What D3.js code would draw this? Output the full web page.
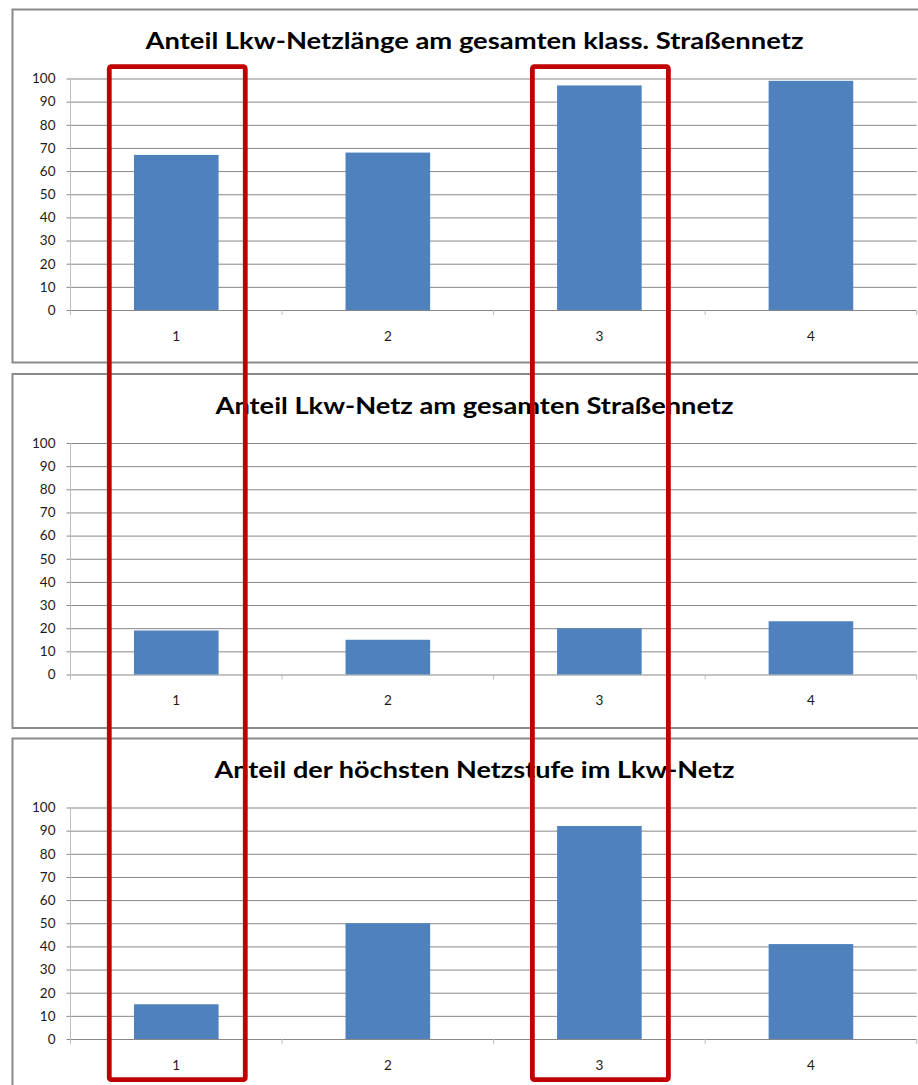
<!DOCTYPE html>
<html>
<head>
<meta charset="utf-8">
<script src="https://cdn.jsdelivr.net/npm/d3@7"></script>
<style>
html,body{margin:0;padding:0;background:#fff;overflow:hidden;}
svg{display:block;}
</style>
</head>
<body>
<svg id="chart" width="918" height="1085"></svg>
<script>
// ---- data ----
const categories = ["1", "2", "3", "4"];
const titles = [
  "Anteil Lkw-Netzlänge am gesamten klass. Straßennetz",
  "Anteil Lkw-Netz am gesamten Straßennetz",
  "Anteil der höchsten Netzstufe im Lkw-Netz"
];
const valuesNetzlaenge = [67, 68, 97, 99];
const valuesNetz = [19, 15, 20, 23];
const valuesHoechsteStufe = [15, 50, 92, 41];
const yTicks = [0, 10, 20, 30, 40, 50, 60, 70, 80, 90, 100];
const highlighted = ["1", "3"];

// ---- layout ----
const series = [valuesNetzlaenge, valuesNetz, valuesHoechsteStufe];
const panelTops = [9.5, 374, 738.5];
const panelBottoms = [362.5, 728, 1100];
const titleWidths = [658, 518, 520];
const plotLeft = 70.5, plotRight = 916.7;
const plotOffset = 69, plotH = 231.5;
const barColor = "#4F81BD", gridColor = "#878787";

const svg = d3.select("#chart");

const x = d3.scaleBand().domain(categories).range([plotLeft, plotRight])
  .paddingInner(0.6).paddingOuter(0.3);
const step = x.step();

series.forEach((vals, i) => {
  const top = panelTops[i];
  const g = svg.append("g");
  // panel border
  g.append("rect")
    .attr("x", 12.5).attr("y", top)
    .attr("width", 940).attr("height", panelBottoms[i] - top)
    .attr("fill", "#fff").attr("stroke", "#8a8a8a").attr("stroke-width", 2);

  // title
  g.append("text")
    .attr("x", 474.5).attr("y", top + 39.5)
    .attr("text-anchor", "middle")
    .attr("font-family", "Lato, 'Open Sans', sans-serif")
    .attr("font-weight", 700).attr("font-size", 23)
    .attr("textLength", titleWidths[i]).attr("lengthAdjust", "spacingAndGlyphs")
    .attr("fill", "#000")
    .text(titles[i]);

  const y0 = top + plotOffset;
  const y = d3.scaleLinear().domain([0, 100]).range([y0 + plotH, y0]);

  // gridlines + y axis ticks
  const yAxis = d3.axisLeft(y).tickValues(yTicks).tickSize(-(plotRight - plotLeft + 4)).tickPadding(11).tickFormat(d3.format("d"));
  const ya = g.append("g").attr("transform", `translate(${plotLeft - 4},0)`).call(yAxis);
  ya.select(".domain").remove();
  ya.selectAll(".tick line").attr("stroke", gridColor).attr("stroke-width", 1)
    .attr("x1", 0).attr("x2", plotRight - plotLeft + 4);
  ya.selectAll(".tick text")
    .attr("font-family", "Lato, sans-serif").attr("font-size", 13.5)
    .attr("fill", "#1a1a1a").attr("x", -11);

  // vertical axis line
  g.append("line")
    .attr("x1", plotLeft).attr("x2", plotLeft)
    .attr("y1", y(100)).attr("y2", y(0) + 5)
    .attr("stroke", "#bdbdbd").attr("stroke-width", 1);

  // x-axis category tick marks at band boundaries
  g.selectAll(".xt").data(d3.range(categories.length + 1)).enter().append("line")
    .attr("x1", k => plotLeft + k * step).attr("x2", k => plotLeft + k * step)
    .attr("y1", y(0)).attr("y2", y(0) + 5)
    .attr("stroke", "#bdbdbd").attr("stroke-width", 1);

  // bars
  g.selectAll(".bar").data(vals).enter().append("rect")
    .attr("x", (d, k) => x(categories[k]))
    .attr("width", x.bandwidth())
    .attr("y", d => y(d))
    .attr("height", d => y(0) - y(d))
    .attr("fill", barColor);

  // category labels
  g.selectAll(".xl").data(categories).enter().append("text")
    .attr("x", d => x(d) + x.bandwidth() / 2)
    .attr("y", y(0) + 26)
    .attr("dy", "0.35em")
    .attr("text-anchor", "middle")
    .attr("font-family", "Lato, sans-serif").attr("font-size", 13.5)
    .attr("fill", "#1a1a1a")
    .text(d => d);
});

// red highlight rectangles spanning all panels
svg.selectAll(".hl").data(highlighted).enter().append("rect")
  .attr("x", d => x(d) + x.bandwidth() / 2 - 67)
  .attr("width", 136)
  .attr("y", 66.7)
  .attr("height", 1079.7 - 66.7)
  .attr("rx", 2).attr("ry", 2)
  .attr("fill", "none")
  .attr("stroke", "#C00000")
  .attr("stroke-width", 4.8);
</script>
</body>
</html>
